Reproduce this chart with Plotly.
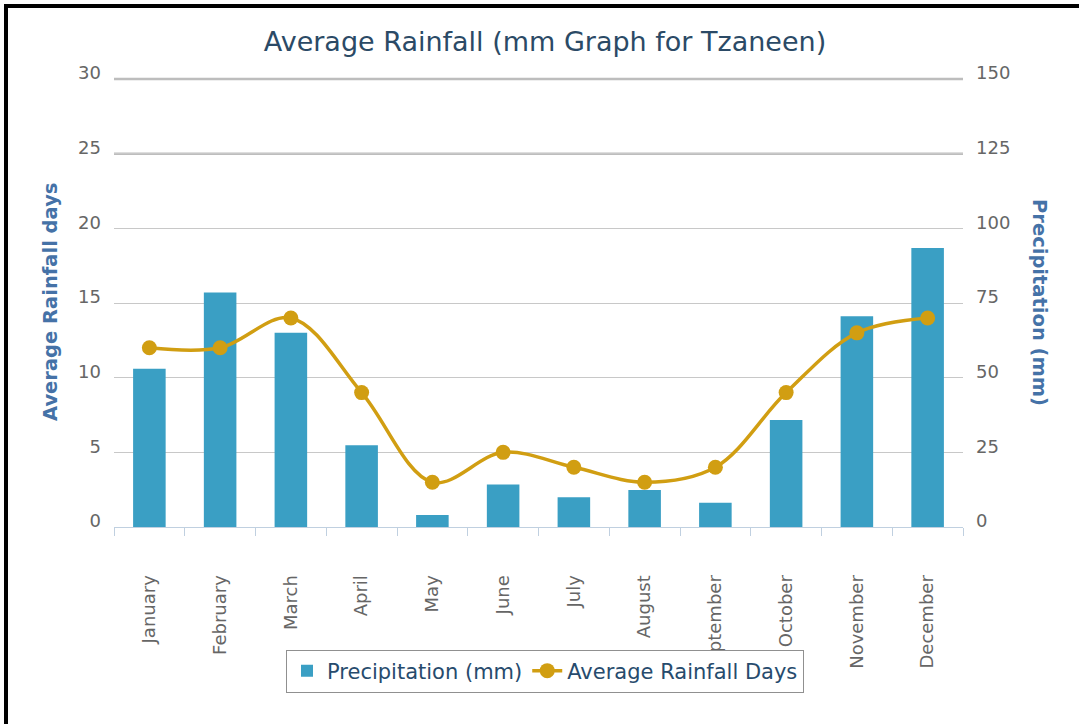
import plotly.graph_objects as go

months = ["January", "February", "March", "April", "May", "June", "July",
          "August", "September", "October", "November", "December"]
precip_mm = [53, 78.5, 65, 27.4, 4, 14.2, 10, 12.4, 8.1, 35.8, 70.6, 93.4]
rain_days = [12, 12, 14, 9, 3, 5, 4, 3, 4, 9, 13, 14]
days_ticks = [0, 5, 10, 15, 20, 25, 30]
precip_ticks = [0, 25, 50, 75, 100, 125, 150]

BAR = "#3A9FC4"
LINE = "#D19E12"
FONT = "DejaVu Sans"

fig = go.Figure()
fig.add_trace(go.Bar(
    x=months, y=precip_mm, name="Precipitation (mm)",
    marker=dict(color=BAR, line=dict(width=0)),
    yaxis="y",
))
fig.add_trace(go.Scatter(
    x=months, y=rain_days, name="Average Rainfall Days",
    mode="lines+markers",
    line=dict(color=LINE, width=3.5, shape="spline", smoothing=1),
    marker=dict(color=LINE, size=15),
    yaxis="y2",
))

W, H = 1079, 724
L, R, T, B = 114, 116, 79, 197
pw = W - L - R
ph = H - T - B

def px_x(p):
    return (p - L) / pw

def px_y(p):
    return (H - B - p) / ph

# heavier grid lines at the top two ticks, as in the original
pmax = precip_ticks[-1]
heavy = [dict(type="line", xref="paper", yref="paper", x0=0, x1=1,
              y0=v / pmax, y1=v / pmax, layer="below",
              line=dict(color="#BDBDBD", width=2.5))
         for v in precip_ticks[-2:]]

fig.update_layout(
    width=W, height=H,
    margin=dict(l=L, r=R, t=T, b=B, pad=0),
    paper_bgcolor="white", plot_bgcolor="white",
    font=dict(family=FONT, color="#666666"),
    title=dict(text="Average Rainfall (mm Graph for Tzaneen)",
               x=545 / W, xanchor="center", y=1 - 42 / H, yanchor="middle",
               font=dict(family=FONT, size=27, color="#2b4a66")),
    bargap=0.54,
    showlegend=True,
    legend=dict(orientation="h", x=px_x(545), y=px_y(671),
                xanchor="center", yanchor="middle",
                bordercolor="#909090", borderwidth=1, bgcolor="white",
                font=dict(family=FONT, size=21, color="#274b6d"),
                itemwidth=30),
    xaxis=dict(
        type="category", range=[-0.5, len(months) - 0.5], showgrid=False,
        showline=True, linecolor="#C0D0E0", linewidth=1,
        ticks="outside", tickson="boundaries", ticklen=8, tickcolor="#C0D0E0",
        tickangle=-90, ticklabelstandoff=40,
        tickfont=dict(family=FONT, size=18, color="#666666"),
    ),
    yaxis=dict(
        side="right", range=[0, pmax], tickvals=precip_ticks,
        showgrid=True, gridcolor="#C8C8C8", gridwidth=1,
        zeroline=False, showline=False, ticks="",
        ticklabelstandoff=12, ticklabelshift=-6,
        tickfont=dict(family=FONT, size=18, color="#666666"),
    ),
    yaxis2=dict(
        side="left", overlaying="y", range=[0, days_ticks[-1]], tickvals=days_ticks,
        showgrid=False, zeroline=False, showline=False, ticks="",
        ticklabelstandoff=12, ticklabelshift=-6,
        tickfont=dict(family=FONT, size=18, color="#666666"),
    ),
    annotations=[
        dict(text="<b>Average Rainfall days</b>", xref="paper", yref="paper",
             x=px_x(50), y=px_y(302), textangle=-90, showarrow=False,
             xanchor="center", yanchor="middle",
             font=dict(family=FONT, size=19.5, color="#4572A7")),
        dict(text="<b>Precipitation (mm)</b>", xref="paper", yref="paper",
             x=px_x(1040), y=px_y(302), textangle=90, showarrow=False,
             xanchor="center", yanchor="middle",
             font=dict(family=FONT, size=19.5, color="#4572A7")),
    ],
    shapes=heavy + [
        dict(type="line", xref="paper", yref="paper",
             x0=px_x(6), x1=px_x(6), y0=px_y(4), y1=px_y(H + 5),
             line=dict(color="black", width=4)),
        dict(type="line", xref="paper", yref="paper",
             x0=px_x(4), x1=px_x(W + 5), y0=px_y(6), y1=px_y(6),
             line=dict(color="black", width=4)),
    ],
)

fig.write_html("out.html", config={"displayModeBar": False},
               post_script="document.body.style.margin='0px';")
